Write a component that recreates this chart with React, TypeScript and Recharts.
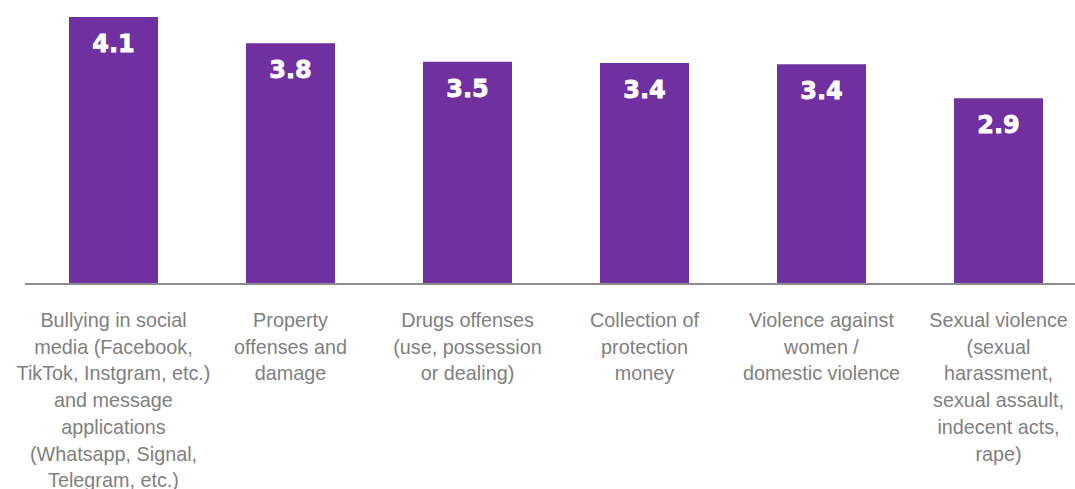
import React from "react";
import { BarChart, Bar, XAxis, YAxis, LabelList } from "recharts";

const categories: string[] = [
  "Bullying in social\nmedia (Facebook,\nTikTok, Instgram, etc.)\nand message\napplications\n(Whatsapp, Signal,\nTelegram, etc.)",
  "Property\noffenses and\ndamage",
  "Drugs offenses\n(use, possession\nor dealing)",
  "Collection of\nprotection\nmoney",
  "Violence against\nwomen /\ndomestic violence",
  "Sexual violence\n(sexual\nharassment,\nsexual assault,\nindecent acts,\nrape)",
];
const values: number[] = [4.17, 3.76, 3.47, 3.45, 3.43, 2.9];
const valueLabels: string[] = ["4.1", "3.8", "3.5", "3.4", "3.4", "2.9"];

const data = categories.map((c, i) => ({ name: c, value: values[i], label: valueLabels[i] }));

const PURPLE = "#70309F";
const GRAY_TEXT = "#808080";

const CategoryTick = (props: any) => {
  const { x, y, payload } = props;
  const lines: string[] = String(payload.value).split("\n");
  return (
    <g>
      {lines.map((ln, i) => (
        <text
          key={i}
          x={x}
          y={y + 43 + i * 26.7}
          textAnchor="middle"
          fill={GRAY_TEXT}
          style={{ fontFamily: "'Liberation Sans', Arial, sans-serif", fontSize: 19.8 }}
        >
          {ln}
        </text>
      ))}
    </g>
  );
};

const ValueLabel = (props: any) => {
  const { x, y, width, index } = props;
  return (
    <text
      x={x + width / 2}
      y={y + 35}
      textAnchor="middle"
      fill="#ffffff"
      stroke="#ffffff"
      strokeWidth={0.8}
      style={{ fontFamily: "'DejaVu Sans', sans-serif", fontSize: 24, fontWeight: 700 }}
    >
      {valueLabels[index]}
    </text>
  );
};

export default function App() {
  return (
    <div style={{ position: "fixed", left: 0, top: 0, width: 1075, height: 489, overflow: "hidden", background: "#fff" }}>
      <BarChart
        width={1090}
        height={489}
        data={data}
        margin={{ top: 15, right: 3, left: 25, bottom: 0 }}
        barSize={89}
      >
        <XAxis
          dataKey="name"
          height={205}
          interval={0}
          tickLine={false}
          tickSize={0}
          tickMargin={0}
          axisLine={{ stroke: "#8c8c8c", strokeWidth: 2 }}
          tick={<CategoryTick />}
        />
        <YAxis hide domain={[0, 4.2]} />
        <Bar dataKey="value" fill={PURPLE} isAnimationActive={false}>
          <LabelList dataKey="value" content={<ValueLabel />} />
        </Bar>
      </BarChart>
    </div>
  );
}
